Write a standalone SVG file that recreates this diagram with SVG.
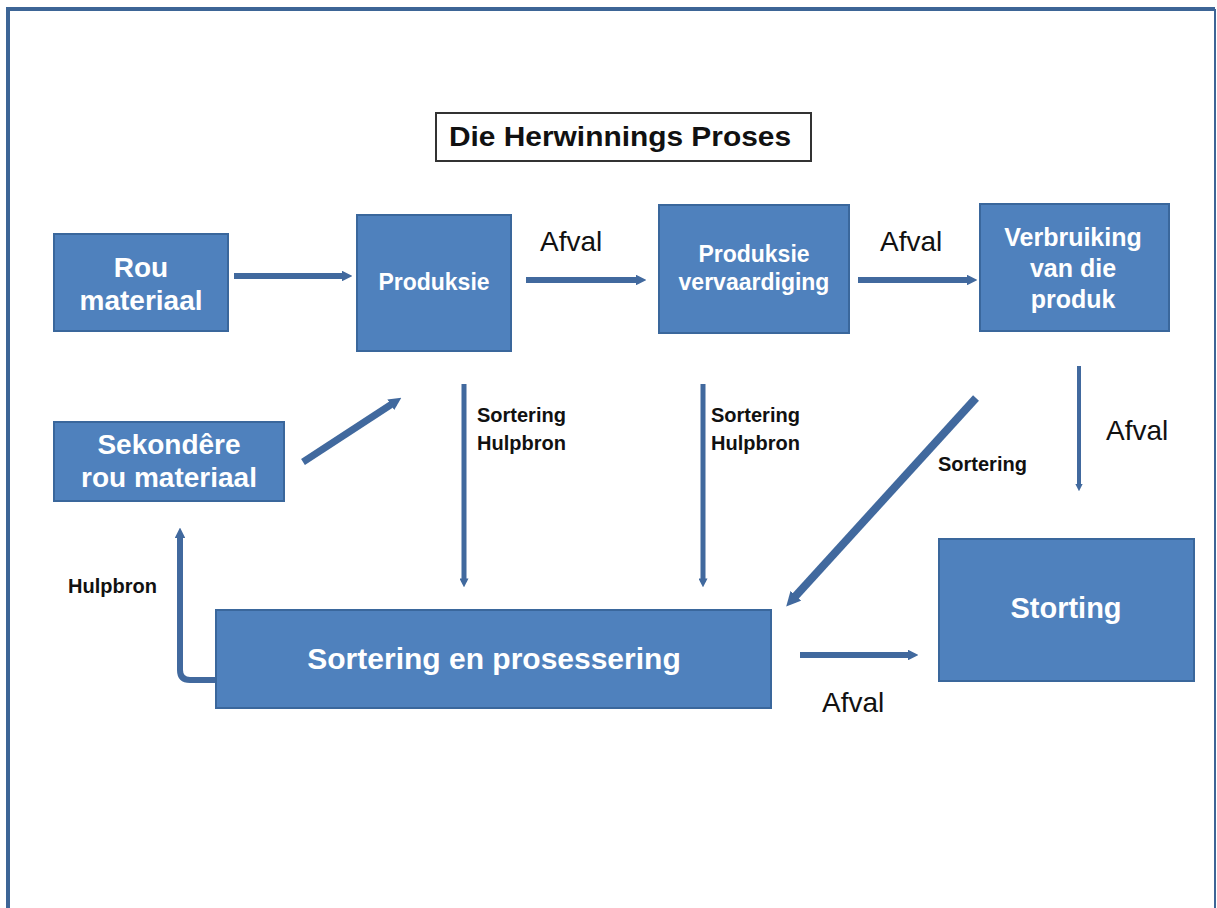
<svg xmlns="http://www.w3.org/2000/svg" width="1217" height="908" viewBox="0 0 1217 908">
<defs>
<style>
.node rect{fill:#4f81bd;stroke:#3a679c;stroke-width:2}
.node text{fill:#ffffff;font-family:"Liberation Sans",Arial,sans-serif;font-weight:bold;text-anchor:middle}
.lbl{fill:#111111;font-family:"Liberation Sans",Arial,sans-serif}
.conn{stroke:#41699e;fill:none;marker-end:url(#ah)}
</style>
<marker id="ah" viewBox="0 0 10 10" refX="4" refY="5" markerWidth="1.8" markerHeight="1.8" orient="auto" markerUnits="strokeWidth">
<path d="M0,0 L10,5 L0,10 z" fill="#41699e"/>
</marker>
</defs>
<rect x="0" y="0" width="1217" height="908" fill="#ffffff"/>
<path d="M8,912 V9 H1215" fill="none" stroke="#3d6596" stroke-width="4"/>
<path d="M1215,9 V912" fill="none" stroke="#3d6596" stroke-width="2"/>

<g id="title">
<rect x="436" y="113" width="375" height="48" fill="#ffffff" stroke="#333333" stroke-width="2"/>
<text x="449" y="146" class="lbl" font-size="28" font-weight="bold" textLength="342" lengthAdjust="spacingAndGlyphs">Die Herwinnings Proses</text>
</g>

<g id="connectors">
<line class="conn" x1="234" y1="276" x2="346" y2="276" stroke-width="6"/>
<line class="conn" x1="526" y1="280" x2="640" y2="280" stroke-width="6"/>
<line class="conn" x1="858" y1="280" x2="971" y2="280" stroke-width="6"/>
<line class="conn" x1="1079" y1="366" x2="1079" y2="487" stroke-width="4"/>
<line class="conn" x1="464" y1="384" x2="464" y2="582" stroke-width="5"/>
<line class="conn" x1="703" y1="384" x2="703" y2="582" stroke-width="5"/>
<line class="conn" x1="976" y1="398" x2="792" y2="600" stroke-width="8"/>
<line class="conn" x1="303" y1="462" x2="395" y2="402" stroke-width="7"/>
<path class="conn" d="M216,680 H190 Q180,680 180,670 V534" stroke-width="6"/>
<line class="conn" x1="800" y1="655" x2="912" y2="655" stroke-width="6"/>
</g>

<g id="labels">
<text class="lbl" x="540" y="251" font-size="28">Afval</text>
<text class="lbl" x="880" y="251" font-size="28">Afval</text>
<text class="lbl" x="1106" y="440" font-size="28">Afval</text>
<text class="lbl" x="822" y="712" font-size="28">Afval</text>
<text class="lbl" x="477" y="422" font-size="20" font-weight="bold">Sortering</text>
<text class="lbl" x="477" y="450" font-size="20" font-weight="bold">Hulpbron</text>
<text class="lbl" x="711" y="422" font-size="20" font-weight="bold">Sortering</text>
<text class="lbl" x="711" y="450" font-size="20" font-weight="bold">Hulpbron</text>
<text class="lbl" x="938" y="471" font-size="20" font-weight="bold">Sortering</text>
<text class="lbl" x="68" y="593" font-size="20" font-weight="bold">Hulpbron</text>
</g>

<g id="rou" class="node">
<rect x="54" y="234" width="174" height="97"/>
<text x="141" y="277" font-size="28">Rou</text>
<text x="141" y="310" font-size="28">materiaal</text>
</g>
<g id="produksie" class="node">
<rect x="357" y="215" width="154" height="136"/>
<text x="434" y="290" font-size="23">Produksie</text>
</g>
<g id="vervaardiging" class="node">
<rect x="659" y="205" width="190" height="128"/>
<text x="754" y="262" font-size="23">Produksie</text>
<text x="754" y="290" font-size="23">vervaardiging</text>
</g>
<g id="verbruiking" class="node">
<rect x="980" y="204" width="189" height="127"/>
<text x="1073" y="246" font-size="25">Verbruiking</text>
<text x="1073" y="277" font-size="25">van die</text>
<text x="1073" y="308" font-size="25">produk</text>
</g>
<g id="sekondere" class="node">
<rect x="54" y="422" width="230" height="79"/>
<text x="169" y="454" font-size="28">Sekondêre</text>
<text x="169" y="487" font-size="28">rou materiaal</text>
</g>
<g id="sortering" class="node">
<rect x="216" y="610" width="555" height="98"/>
<text x="494" y="669" font-size="30">Sortering en prosessering</text>
</g>
<g id="storting" class="node">
<rect x="939" y="539" width="255" height="142"/>
<text x="1066" y="618" font-size="29">Storting</text>
</g>
</svg>
